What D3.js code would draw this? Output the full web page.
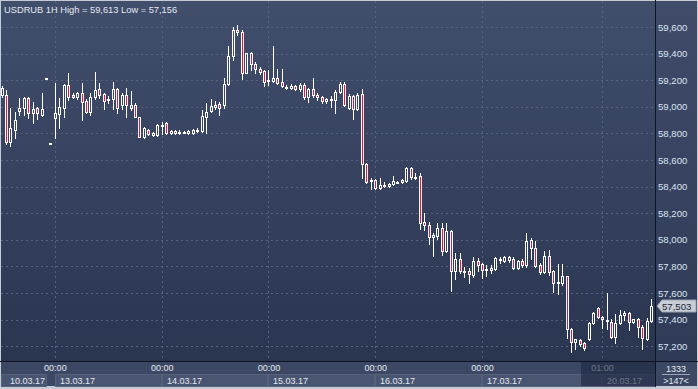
<!DOCTYPE html>
<html><head><meta charset="utf-8">
<script src="https://cdn.jsdelivr.net/npm/d3@7"></script>
<style>html,body{margin:0;padding:0;background:#3a4661;overflow:hidden}svg{display:block}</style>
</head><body><svg id="c" width="698" height="389"></svg>
<script>
const symbol = "USDRUB", timeframe = "1H";
// [date, first hour, number of hourly bars]
const daySegments = [["10.03.17",12,12],["13.03.17",0,24],["14.03.17",0,24],["15.03.17",0,24],["16.03.17",0,24],["17.03.17",0,24],["19.03.17",21,3],["20.03.17",1,12]];
const open = [59.089,59.089,58.735,58.826,58.968,58.991,59.066,58.953,58.991,58.938,59.217,58.727,58.916,58.946,58.991,59.164,59.089,59.074,59.104,59.044,58.961,59.074,59.134,59.096,59.059,59.059,59.134,59.014,59.089,58.991,59.014,58.923,58.773,58.826,58.788,58.788,58.863,58.878,58.803,58.818,58.810,58.810,58.803,58.803,58.826,58.818,58.923,58.968,58.999,59.021,59.014,59.171,59.382,59.577,59.562,59.254,59.404,59.322,59.284,59.269,59.202,59.194,59.217,59.186,59.149,59.141,59.156,59.134,59.164,59.074,59.134,59.089,59.074,59.044,59.059,59.051,59.111,59.171,58.991,59.081,58.983,59.096,58.570,58.450,58.450,58.389,58.412,58.405,58.420,58.435,58.435,58.442,58.540,58.472,58.480,58.134,58.111,58.021,58.029,58.089,57.916,58.066,57.765,57.855,57.765,57.765,57.735,57.841,57.818,57.780,57.773,57.780,57.855,57.841,57.848,57.855,57.788,57.841,57.810,57.998,57.938,57.810,57.758,57.878,57.765,57.675,57.675,57.728,57.329,57.231,57.247,57.224,57.254,57.374,57.487,57.420,57.397,57.382,57.269,57.374,57.435,57.450,57.382,57.404,57.344,57.254,57.389];
const high = [59.156,59.126,58.991,58.961,59.066,59.074,59.074,59.036,58.999,59.104,59.220,58.730,59.179,59.066,59.171,59.254,59.104,59.111,59.179,59.059,59.104,59.262,59.179,59.104,59.081,59.186,59.141,59.104,59.141,59.119,59.029,58.923,58.848,58.833,58.810,58.871,58.886,58.886,58.826,58.826,58.826,58.818,58.826,58.833,58.841,58.976,59.029,59.059,59.044,59.036,59.217,59.457,59.600,59.613,59.577,59.404,59.412,59.337,59.299,59.277,59.277,59.457,59.284,59.284,59.164,59.171,59.164,59.179,59.179,59.141,59.217,59.104,59.081,59.066,59.081,59.126,59.186,59.186,59.096,59.089,59.104,59.134,58.577,58.465,58.457,58.465,58.435,58.427,58.480,58.442,58.457,58.547,58.547,58.502,58.502,58.202,58.134,58.051,58.126,58.126,58.126,58.074,57.901,57.901,57.795,57.788,57.870,57.863,57.825,57.810,57.810,57.870,57.870,57.878,57.878,57.870,57.848,57.855,58.051,58.014,57.991,57.825,57.916,57.923,57.773,57.818,57.818,57.728,57.337,57.254,57.254,57.231,57.382,57.457,57.495,57.427,57.600,57.404,57.442,57.472,57.465,57.457,57.404,57.412,57.359,57.412,57.555];
const low = [59.074,58.720,58.705,58.765,58.938,58.938,58.916,58.878,58.908,58.931,59.214,58.724,58.765,58.841,58.923,59.051,59.066,59.059,58.901,58.953,58.938,59.059,59.066,58.983,59.029,58.983,58.953,58.983,58.923,58.976,58.923,58.773,58.765,58.788,58.780,58.780,58.795,58.795,58.795,58.795,58.795,58.803,58.795,58.795,58.810,58.810,58.803,58.961,58.983,58.938,58.991,59.164,59.352,59.540,59.209,59.254,59.277,59.254,59.247,59.156,59.164,59.186,59.171,59.149,59.134,59.134,59.126,59.119,59.059,59.036,59.074,59.051,59.029,59.029,58.999,58.953,59.104,59.006,58.983,58.908,58.976,58.465,58.427,58.382,58.382,58.382,58.397,58.397,58.412,58.427,58.427,58.435,58.457,58.457,58.081,58.074,57.968,57.878,58.006,57.885,57.908,57.615,57.705,57.750,57.720,57.675,57.720,57.765,57.713,57.728,57.750,57.773,57.825,57.833,57.833,57.780,57.780,57.795,57.795,57.855,57.795,57.743,57.750,57.735,57.608,57.592,57.660,57.262,57.156,57.179,57.201,57.171,57.247,57.367,57.412,57.337,57.329,57.262,57.224,57.367,57.397,57.322,57.374,57.269,57.179,57.247,57.382];
const close = [59.141,58.735,58.841,58.901,58.991,59.066,58.953,58.983,58.953,58.983,59.217,58.727,58.953,58.999,59.164,59.074,59.074,59.104,59.036,58.961,59.074,59.126,59.089,59.044,59.051,59.134,58.991,59.089,59.014,59.014,58.923,58.773,58.841,58.795,58.803,58.863,58.856,58.803,58.818,58.803,58.810,58.810,58.818,58.826,58.826,58.931,58.961,59.006,59.014,58.991,59.171,59.382,59.577,59.562,59.254,59.404,59.322,59.284,59.262,59.186,59.194,59.217,59.179,59.156,59.149,59.156,59.134,59.164,59.074,59.134,59.089,59.074,59.044,59.059,59.051,59.111,59.171,59.014,59.081,58.983,59.089,58.570,58.435,58.442,58.389,58.412,58.412,58.420,58.442,58.435,58.450,58.540,58.472,58.472,58.126,58.111,58.021,58.036,58.089,57.916,58.066,57.765,57.855,57.765,57.765,57.743,57.841,57.810,57.773,57.780,57.788,57.863,57.855,57.870,57.870,57.788,57.841,57.810,57.991,57.938,57.803,57.758,57.878,57.758,57.675,57.683,57.728,57.329,57.231,57.254,57.216,57.186,57.374,57.450,57.420,57.404,57.389,57.269,57.374,57.435,57.450,57.382,57.404,57.344,57.262,57.389,57.503];
const yTicks = [57.2,57.4,57.6,57.8,58.0,58.2,58.4,58.6,58.8,59.0,59.2,59.4,59.6];
const timeMarks = ["13.03.17 00:00","14.03.17 00:00","15.03.17 00:00","16.03.17 00:00","17.03.17 00:00","20.03.17 01:00"];
const firstDateLabel = "10.03.17";
const totalBarsLabel = "1333", visibleBarsLabel = ">147<";

// build hourly categories
const categories = [];
daySegments.forEach(([d, h0, n]) => { for (let k = 0; k < n; k++) categories.push(d + " " + String(h0 + k).padStart(2, "0") + ":00"); });
const data = categories.map((c, i) => ({c, o: open[i], h: high[i], l: low[i], cl: close[i]}));

const svg = d3.select("#c");
const W = 698, H = 389;
const P = {l: 1, r: 655, t: 1, b: 361};
const fmt = v => d3.format(".3f")(v).replace(".", ",");

const x = d3.scalePoint().domain(categories).range([1.5, 651.05]);
const y = d3.scaleLinear().domain([57.2, 59.6]).range([346.2, 27]);

const defs = svg.append("defs");
const g1 = defs.append("linearGradient").attr("id", "bg").attr("x1", 0).attr("y1", 0).attr("x2", 0).attr("y2", 1);
g1.append("stop").attr("offset", 0).attr("stop-color", "#414e6c");
g1.append("stop").attr("offset", 1).attr("stop-color", "#2a3550");
const g2 = defs.append("linearGradient").attr("id", "bg2").attr("x1", 0).attr("y1", 0).attr("x2", 0).attr("y2", 1);
g2.append("stop").attr("offset", 0).attr("stop-color", "#3f4b69");
g2.append("stop").attr("offset", 1).attr("stop-color", "#2f3a56");
defs.append("clipPath").attr("id", "clip").append("rect").attr("x", P.l).attr("y", P.t).attr("width", P.r - P.l).attr("height", P.b - P.t);

// frame
svg.append("rect").attr("width", W).attr("height", H).attr("fill", "#c6ccd5");
svg.append("rect").attr("x", 1).attr("y", 1).attr("width", W - 2).attr("height", 385).attr("fill", "#3a4661");
svg.append("rect").attr("x", P.l).attr("y", P.t).attr("width", P.r - P.l).attr("height", P.b - P.t).attr("fill", "url(#bg)");
svg.append("rect").attr("x", 656).attr("y", 1).attr("width", 41).attr("height", 360).attr("fill", "url(#bg2)");
svg.append("rect").attr("x", 1).attr("y", 362).attr("width", W - 2).attr("height", 24).attr("fill", "#3c4863");

// grid
const grid = svg.append("g").attr("stroke", "#56637e").attr("stroke-width", 1).attr("stroke-dasharray", "2,3");
grid.selectAll("line.h").data(yTicks).join("line")
  .attr("x1", P.l).attr("x2", P.r).attr("y1", d => Math.round(y(d)) + 0.5).attr("y2", d => Math.round(y(d)) + 0.5);
grid.selectAll("line.v").data(timeMarks).join("line")
  .attr("y1", P.t).attr("y2", P.b).attr("x1", d => Math.round(x(d)) + 0.5).attr("x2", d => Math.round(x(d)) + 0.5);

// candles
const cg = svg.append("g").attr("clip-path", "url(#clip)");
const R = v => Math.round(v);
data.forEach(d => {
  const px = R(x(d.c));
  const up = d.cl >= d.o;
  const yt = R(y(Math.max(d.o, d.cl))), yb = R(y(Math.min(d.o, d.cl)));
  const yh = R(y(d.h)), yl = R(y(d.l));
  const bh = Math.max(yb - yt, 1);
  if (yh < yt) cg.append("line").attr("x1", px + 0.5).attr("x2", px + 0.5).attr("y1", yh).attr("y2", yt).attr("stroke", "#ffffff");
  if (yl > yt + bh) cg.append("line").attr("x1", px + 0.5).attr("x2", px + 0.5).attr("y1", yt + bh).attr("y2", yl + 1).attr("stroke", "#ffffff");
  cg.append("rect").attr("x", px - 0.5).attr("y", yt + 0.5).attr("width", 2).attr("height", bh)
    .attr("fill", up ? "none" : "#e8163f").attr("stroke", "#ffffff").attr("stroke-width", 1);
});

// separators
svg.append("line").attr("x1", 655.5).attr("x2", 655.5).attr("y1", 0).attr("y2", 387).attr("stroke", "#0e1424");
svg.append("line").attr("x1", 0).attr("x2", W).attr("y1", 361.5).attr("y2", 361.5).attr("stroke", "#0e1424");

const font = "'Liberation Sans', Arial, sans-serif";
// title
const hi = d3.max(high), lo = d3.min(low);
svg.append("text").attr("x", 4).attr("y", 13).attr("font-family", font).attr("font-size", 9.3).attr("fill", "#e4e9f1")
  .text(`${symbol} ${timeframe} High = ${fmt(hi)} Low = ${fmt(lo)}`);

// right axis
svg.append("g").selectAll("text").data(yTicks).join("text")
  .attr("x", 658).attr("y", d => y(d) + 3.5).attr("font-family", font).attr("font-size", 9.6).attr("fill", "#dbe5f3")
  .text(d => fmt(d));

// current price marker
const last = close[close.length - 1], ly = R(y(last));
svg.append("path").attr("d", `M657,${ly} L662,${ly - 6} L696,${ly - 6} L696,${ly + 6} L662,${ly + 6} Z`).attr("fill", "#c8cdd6").attr("stroke", "#9aa2b0");
svg.append("text").attr("x", 662).attr("y", ly + 3.5).attr("font-family", font).attr("font-size", 9.6).attr("fill", "#1b2338").text(fmt(last));

// bottom axis: date boxes
const bx = timeMarks.map(c => R(x(c)));
const boxes = [{x0: 1, x1: 47, t: firstDateLabel, tx: 10}];
timeMarks.forEach((c, i) => boxes.push({x0: bx[i], x1: i < bx.length - 1 ? bx[i + 1] : 655, t: c.split(" ")[0], tx: bx[i] + 5}));
const ax = svg.append("g");
ax.selectAll("rect").data(boxes).join("rect")
  .attr("x", d => d.x0 + 0.5).attr("y", 374.5).attr("width", d => d.x1 - d.x0 - 1).attr("height", 12)
  .attr("fill", "#4a5671").attr("stroke", "#56627c");
ax.selectAll("text.d").data(boxes).join("text").attr("class", "d")
  .attr("x", d => d.tx).attr("y", 383.5).attr("font-family", font).attr("font-size", 9).attr("fill", "#e2e8f1").text(d => d.t);
ax.selectAll("text.t").data(timeMarks).join("text").attr("class", "t")
  .attr("x", d => x(d) + 0.5).attr("y", 371).attr("text-anchor", "middle").attr("font-family", font).attr("font-size", 9).attr("fill", "#e2e8f1")
  .text(d => d.split(" ")[1]);
// dimmed region for the last (current) day
svg.append("rect").attr("x", 581).attr("y", 362).attr("width", 74).attr("height", 24).attr("fill", "#1d2640").attr("opacity", 0.62);
svg.append("line").attr("x1", 588.5).attr("x2", 588.5).attr("y1", 362).attr("y2", 386).attr("stroke", "#2c3651");

// bottom-right counters
svg.append("text").attr("x", 676).attr("y", 372).attr("text-anchor", "middle").attr("font-family", font).attr("font-size", 9).attr("fill", "#e2e8f1").text(totalBarsLabel);
svg.append("line").attr("x1", 662).attr("x2", 690).attr("y1", 374.5).attr("y2", 374.5).attr("stroke", "#9aa5b8");
svg.append("text").attr("x", 676).attr("y", 384).attr("text-anchor", "middle").attr("font-family", font).attr("font-size", 9).attr("fill", "#e2e8f1").text(visibleBarsLabel);
</script></body></html>
